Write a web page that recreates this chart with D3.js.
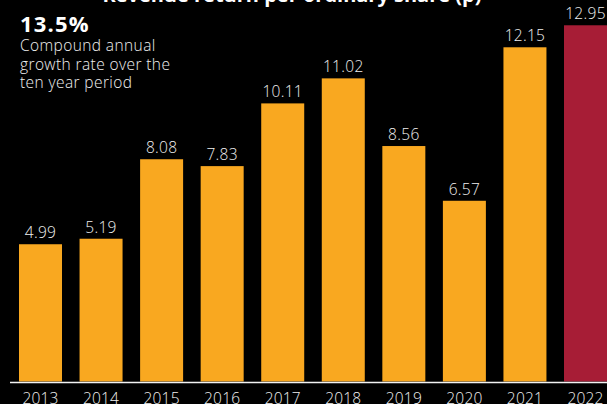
<!DOCTYPE html>
<html>
<head>
<meta charset="utf-8">
<script src="https://cdn.jsdelivr.net/npm/d3@7"></script>
<style>
  html, body { margin: 0; padding: 0; background: #000; }
  svg { display: block; }
</style>
</head>
<body>
<svg id="chart" width="607" height="404"></svg>
<script>
// Revenue return per ordinary share, pence
const years = ["2013", "2014", "2015", "2016", "2017", "2018", "2019", "2020", "2021", "2022"];
const values = [4.99, 5.19, 8.08, 7.83, 10.11, 11.02, 8.56, 6.57, 12.15, 12.95];
const highlightYear = "2022";
const titleText = "Revenue return per ordinary share (p)";
const cagrText = "13.5%";
const cagrNote = ["Compound annual", "growth rate over the", "ten year period"];

const W = 607, H = 404;
const baseY = 381.5;
const FONT = "'Open Sans', 'Noto Sans', sans-serif";
const svg = d3.select("#chart");

svg.append("rect").attr("width", W).attr("height", H).attr("fill", "#000");

const x = d3.scaleBand()
  .domain(years)
  .range([19, 607])
  .paddingInner(0.29)
  .paddingOuter(0);

const y = d3.scaleLinear()
  .domain([0, 13])
  .range([baseY, 23.9]);

const data = years.map((yr, i) => ({ year: yr, value: values[i] }));

// bars
svg.append("g").selectAll("rect")
  .data(data)
  .join("rect")
  .attr("x", d => x(d.year))
  .attr("y", d => y(d.value))
  .attr("width", x.bandwidth())
  .attr("height", d => baseY - y(d.value))
  .attr("fill", d => d.year === highlightYear ? "#A71D36" : "#F9A820");

// value labels
svg.append("g").selectAll("text")
  .data(data)
  .join("text")
  .attr("x", d => x(d.year) + x.bandwidth() / 2)
  .attr("y", d => y(d.value) - 6)
  .attr("text-anchor", "middle")
  .attr("font-family", FONT)
  .attr("font-weight", 300)
  .attr("font-size", 15.5)
  .attr("letter-spacing", 0.3)
  .attr("fill", "#f0f0f0")
  .text(d => d.value.toFixed(2));

// baseline
svg.append("line")
  .attr("x1", 10).attr("x2", W)
  .attr("y1", baseY + 1).attr("y2", baseY + 1)
  .attr("stroke", "#f2f2f2")
  .attr("stroke-width", 1.5);

// year axis
const axis = svg.append("g")
  .attr("transform", `translate(0,${baseY + 1})`)
  .call(d3.axisBottom(x).tickSize(0).tickPadding(10));
axis.select(".domain").remove();
axis.selectAll("text")
  .attr("font-family", FONT)
  .attr("font-weight", 300)
  .attr("font-size", 15.5)
  .attr("letter-spacing", 0.2)
  .attr("fill", "#f0f0f0");

// title (partially above the frame)
svg.append("text")
  .attr("x", 292)
  .attr("y", 2)
  .attr("text-anchor", "middle")
  .attr("font-family", FONT)
  .attr("font-weight", 700)
  .attr("font-size", 20)
  .attr("fill", "#ffffff")
  .text(titleText);

// compound annual growth note
svg.append("text")
  .attr("x", 20)
  .attr("y", 32)
  .attr("font-family", FONT)
  .attr("font-weight", 700)
  .attr("font-size", 22)
  .attr("letter-spacing", 1.2)
  .attr("fill", "#ffffff")
  .text(cagrText);

svg.append("g").selectAll("text")
  .data(cagrNote)
  .join("text")
  .attr("x", 20)
  .attr("y", (d, i) => 51 + i * 18.5)
  .attr("font-family", FONT)
  .attr("font-weight", 300)
  .attr("font-size", 15.5)
  .attr("letter-spacing", 0.4)
  .attr("fill", "#f0f0f0")
  .text(d => d);
</script>
</body>
</html>
